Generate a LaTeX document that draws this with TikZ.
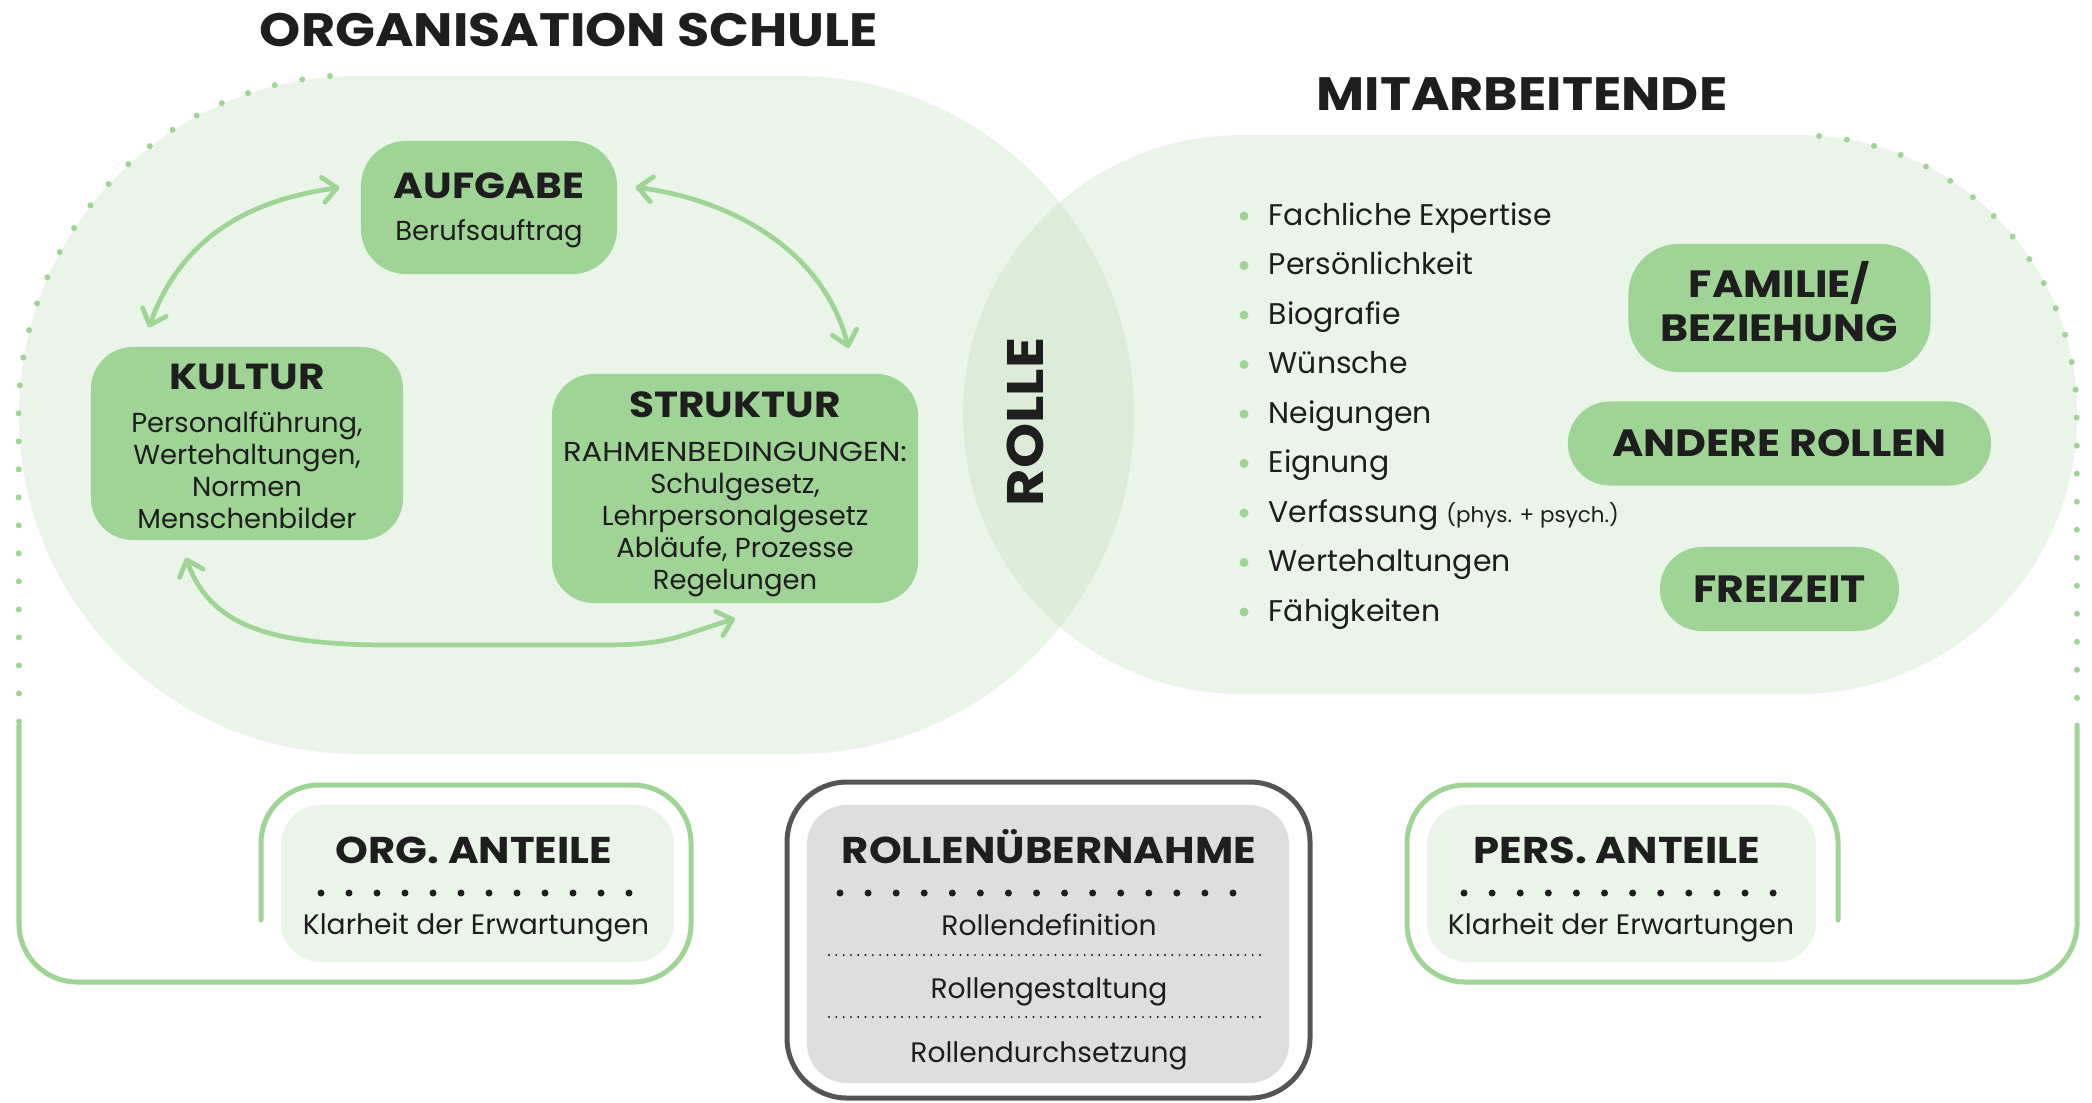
\documentclass[tikz,border=0pt]{standalone}
\usepackage{fontspec}
\setmainfont{Poppins}[BoldFeatures={FakeStretch=1.12}]
\usepackage{tikz}
\usetikzlibrary{positioning, calc, arrows.meta}
\definecolor{leafgreen}{RGB}{160,211,150}
\definecolor{paleleaf}{RGB}{188,218,182}
\definecolor{softleaf}{RGB}{234,244,232}
\definecolor{inkdark}{RGB}{30,30,30}
\definecolor{boxgray}{RGB}{222,222,222}
\definecolor{framegray}{RGB}{85,85,85}
\newcommand{\boxhead}{\fontsize{10.3}{12}\selectfont\bfseries}
\tikzset{field/.style={fill=paleleaf, fill opacity=0.3}}
\tikzset{dotline/.style={draw=leafgreen, line width=0.06cm, line cap=round, dash pattern=on 0pt off 0.28cm}}
\tikzset{bracket/.style={draw=leafgreen, line width=0.05cm, line cap=round, rounded corners=0.58cm}}
\tikzset{rollframe/.style={draw=framegray, line width=0.05cm, rounded corners=0.6cm}}
\tikzset{finedots/.style={draw=inkdark, line width=0.022cm, line cap=round, dash pattern=on 0pt off 0.073cm}}
\tikzset{gbox/.style={fill=leafgreen, rounded corners=0.42cm, inner sep=0pt}}
\tikzset{boxtext/.style={align=center, inner sep=0pt, font=\fontsize{7.8}{9.1}\selectfont}}
\tikzset{pill/.style={gbox, align=center, font=\fontsize{10.8}{12.5}\selectfont\bfseries, minimum height=0.84cm, rounded corners=0.42cm}}
\tikzset{softbox/.style={fill=softleaf, rounded corners=0.4cm, inner sep=0pt}}
\tikzset{graybox/.style={fill=boxgray, rounded corners=0.4cm, inner sep=0pt}}
\tikzset{headline/.style={font=\fontsize{13.3}{15}\selectfont\bfseries, inner sep=0pt}}
\tikzset{parthead/.style={font=\fontsize{10.6}{12}\selectfont\bfseries, inner sep=0pt}}
\tikzset{parttext/.style={font=\fontsize{8}{9.5}\selectfont, inner sep=0pt}}
\tikzset{item/.style={anchor=base west, inner sep=0pt, font=\fontsize{8.5}{10}\selectfont}}
\tikzset{arr/.style={draw=leafgreen, line width=0.047cm, line cap=round, >={Straight Barb[round,length=0.14cm,width=0.25cm]}, <->}}

\begin{document}
\begin{tikzpicture}[x=0.01cm, y=-0.01cm, every node/.append style={text=inkdark}]
	\useasboundingbox (0,0) rectangle (2092,1102);
	%
	\fill[field, rounded corners=3.38cm] (19,76) rectangle (1134,754);
	\fill[field, rounded corners=2.78cm] (963,135) rectangle (2077,694);
	\draw[dotline] (330,76) arc[start angle=94.7, end angle=180, radius=3.39cm] -- (19,722);
	\draw[dotline] (1819,136) arc[start angle=85.5, end angle=0, radius=2.795cm] -- (2077,722);
	%
	\node[headline] (orgs) at (569,30) {ORGANISATION SCHULE};
	\node[headline] (mit) at (1522,94) {MITARBEITENDE};
	%
	\node[gbox, minimum width=2.56cm, minimum height=1.33cm, rounded corners=0.45cm] (auf) at (489,207.5) {};
	\node[boxtext] (auft) at ([yshift=-0.03cm]auf.center) {{\boxhead AUFGABE}\\[3pt] Berufsauftrag};
	\node[gbox, minimum width=3.12cm, minimum height=1.93cm] (kul) at (247,443.5) {};
	\node[boxtext] (kult) at ([yshift=-0.027cm]kul.center)
		{{\boxhead KULTUR}\\[3.3pt] Personalführung,\\ Wertehaltungen,\\ Normen\\ Menschenbilder};
	\node[gbox, minimum width=3.66cm, minimum height=2.29cm] (str) at (735,488.5) {};
	\node[boxtext] (strt) at ([yshift=-0.06cm]str.center)
		{{\boxhead STRUKTUR}\\[3.4pt] {\addfontfeatures{FakeStretch=1.12}RAHMENBEDINGUNGEN:}\\ Schulgesetz,\\ Lehrpersonalgesetz\\ Abläufe, Prozesse\\ Regelungen};
	%
	\draw[arr, shorten <=0.21cm, shorten >=0.2cm] (auf.170) .. controls +(-110,15) and +(40,-110) .. ([xshift=-1.05cm]kul.north);
	\draw[arr, shorten <=0.18cm, shorten >=0.26cm] (auf.10) .. controls +(113,15) and +(-32,-124) .. ([xshift=1.2cm]str.north);
	\draw[arr, shorten <=0.18cm] ([xshift=-0.67cm]kul.south) .. controls +(30,85) and +(-120,0) .. (390,645)
		-- (600,645) .. controls +(70,0) and +(-60,18) .. ([yshift=-0.15cm]str.south);
	%
	\node[rotate=90, font=\fontsize{14.6}{16}\selectfont\bfseries, inner sep=0pt] (rol) at (1025,422) {ROLLE};
	%
	\foreach \t [count=\i] in {Fachliche Expertise, Persönlichkeit, Biografie, Wünsche, Neigungen, Eignung,
		{Verfassung {\fontsize{6.1}{7}\selectfont(phys. + psych.)}}, Wertehaltungen, Fähigkeiten} {
		\node[item] (it\i) at (1268,{225+49.5*(\i-1)}) {\t};
		\fill[leafgreen] ([shift={(-24,-9)}]it\i.base west) circle (4.5);
	}
	%
	\node[pill, minimum width=3.02cm, minimum height=1.28cm, rounded corners=0.5cm] (fam) at (1779.5,308) {};
	\node[pill, fill=none, minimum height=0pt] (famt) at ([yshift=0.067cm]fam.center) {FAMILIE/\\BEZIEHUNG};
	\node[pill, minimum width=4.23cm, below=0.28cm of fam] (oth) {ANDERE ROLLEN};
	\node[pill, minimum width=2.39cm, below=0.6cm of oth] (frei) {FREIZEIT};
	%
	\draw[bracket] (19,725) -- (19,982) -- (691,982) -- (691,785) -- (261,785) -- (261,920);
	\draw[bracket] (2077,725) -- (2077,982) -- (1407,982) -- (1407,785) -- (1838,785) -- (1838,920);
	\draw[rollframe] (787,782) rectangle (1310,1098);
	%
	\node[softbox, minimum width=3.93cm, minimum height=1.57cm] (org) at (477.5,883.5) {};
	\node[graybox, minimum width=4.82cm, minimum height=2.78cm] (rue) at (1048,944) {};
	\node[softbox, minimum width=3.89cm, minimum height=1.57cm] (pers) at (1621.5,883.5) {};
	%
	\node[parthead] (orgh) at (474,850) {ORG. ANTEILE};
	\node[parthead] (rueh) at (1049,847) {ROLLENÜBERNAHME};
	\node[parthead] (persh) at (1617,850) {PERS. ANTEILE};
	\foreach \k in {0,...,11} \fill[inkdark] (321+28*\k,893) circle (3.5);
	\foreach \k in {0,...,14} \fill[inkdark] (840+28.07*\k,893) circle (3.5);
	\foreach \k in {0,...,11} \fill[inkdark] (1464+28.1*\k,893) circle (3.5);
	%
	\node[parttext] (orgk) at (476,928) {Klarheit der Erwartungen};
	\node[parttext] (persk) at (1621,928) {Klarheit der Erwartungen};
	\node[parttext] (rd) at (1049,925) {Rollendefinition};
	\node[parttext] (rg) at (1049,992) {Rollengestaltung};
	\node[parttext] (rs) at (1049,1056) {Rollendurchsetzung};
	\draw[finedots] (829,955) -- (1267,955);
	\draw[finedots] (829,1017) -- (1267,1017);
\end{tikzpicture}
\end{document}
